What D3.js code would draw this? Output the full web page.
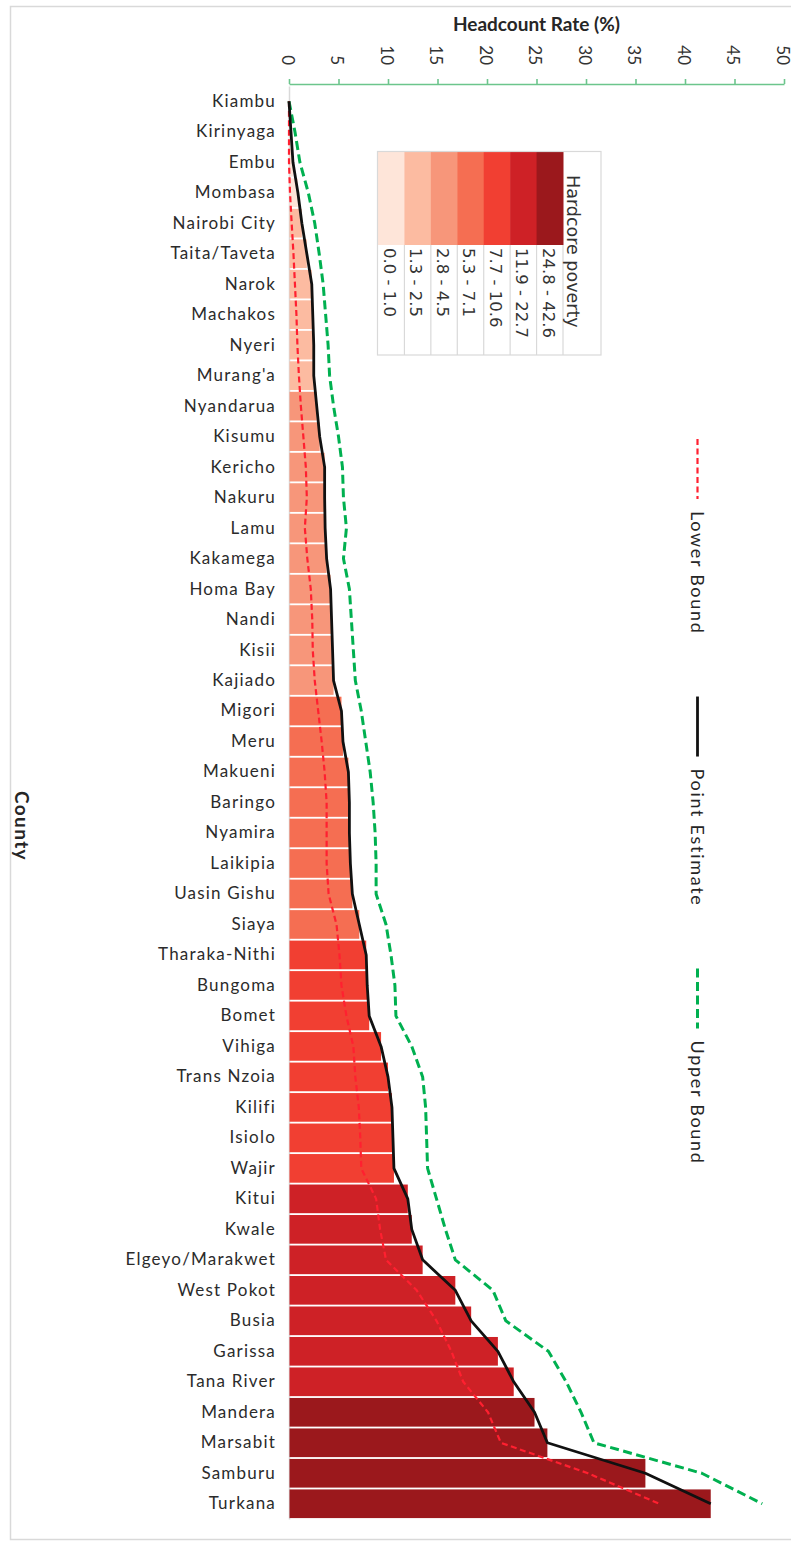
<!DOCTYPE html>
<html>
<head>
<meta charset="utf-8">
<script src="https://cdnjs.cloudflare.com/ajax/libs/d3/7.8.5/d3.min.js"></script>
<style>
  body { margin: 0; background: #fff; }
  svg text { fill: #262626; }
</style>
</head>
<body>
<script>
// counties, top to bottom
const counties = ["Kiambu", "Kirinyaga", "Embu", "Mombasa", "Nairobi City", "Taita/Taveta", "Narok",
    "Machakos", "Nyeri", "Murang'a", "Nyandarua", "Kisumu", "Kericho", "Nakuru", "Lamu", "Kakamega",
    "Homa Bay", "Nandi", "Kisii", "Kajiado", "Migori", "Meru", "Makueni", "Baringo", "Nyamira",
    "Laikipia", "Uasin Gishu", "Siaya", "Tharaka-Nithi", "Bungoma", "Bomet", "Vihiga", "Trans Nzoia",
    "Kilifi", "Isiolo", "Wajir", "Kitui", "Kwale", "Elgeyo/Marakwet", "West Pokot", "Busia", "Garissa",
    "Tana River", "Mandera", "Marsabit", "Samburu", "Turkana"];

// hardcore poverty headcount rate (%)
const pointEstimate = [0.0, 0.2, 0.4, 0.9, 1.3, 1.8, 2.3, 2.4, 2.5, 2.5, 2.8, 3.1, 3.6, 3.6, 3.65, 3.8,
    4.2, 4.3, 4.4, 4.5, 5.3, 5.45, 6.0, 6.1, 6.1, 6.2, 6.4, 7.1, 7.8, 7.9, 8.1, 9.3, 10.0,
    10.4, 10.5, 10.6, 12.0, 12.4, 13.5, 16.8, 18.4, 21.1, 22.7, 24.8, 26.1, 36.0, 42.6];
const lowerBound = [0.0, 0.0, 0.0, 0.1, 0.27, 0.45, 0.6, 0.75, 0.85, 1.0, 1.2, 1.45, 1.7, 1.8, 1.6, 1.85,
    2.2, 2.35, 2.4, 2.6, 2.95, 3.3, 3.6, 3.8, 3.8, 3.8, 4.0, 4.8, 5.1, 5.3, 5.8, 6.5, 6.7,
    7.05, 7.2, 7.3, 8.8, 9.2, 9.8, 12.9, 14.9, 16.4, 17.6, 20.1, 21.4, 30.2, 37.4];
const upperBound = [0.0, 0.6, 1.1, 1.95, 2.6, 3.05, 3.45, 3.7, 3.95, 4.1, 4.5, 5.0, 5.4, 5.5, 5.8, 5.5,
    6.1, 6.3, 6.5, 6.7, 7.3, 7.75, 8.2, 8.5, 8.7, 8.8, 8.8, 9.8, 10.3, 10.7, 10.8, 12.4, 13.5,
    13.8, 13.9, 14.0, 14.9, 15.8, 16.8, 20.6, 21.9, 26.2, 28.0, 29.5, 30.8, 41.7, 47.8];

// colour classes
const classLabels = ["0.0 - 1.0", "1.3 - 2.5", "2.8 - 4.5", "5.3 - 7.1", "7.7 - 10.6", "11.9 - 22.7", "24.8 - 42.6"];
const classBreaks = [1.15, 2.65, 4.9, 7.4, 11.25, 23.75];
const classColors = ["#fee5d9", "#fcbba1", "#f7967a", "#f56e52", "#f13f32", "#ce2126", "#9b181c"];

const xTicks = [0, 5, 10, 15, 20, 25, 30, 35, 40, 45, 50];
const seriesNames = ["Lower Bound", "Point Estimate", "Upper Bound"];

const calibri = "Lato, 'Open Sans', sans-serif";

var width = 791, height = 1548;

var svg = d3.select("body").append("svg")
    .attr("width", width)
    .attr("height", height);

// chart border
svg.append("rect")
    .attr("x", 10.5).attr("y", 6.5)
    .attr("width", 800).attr("height", 1533)
    .attr("fill", "none")
    .attr("stroke", "#d9d9d9")
    .attr("stroke-width", 1.5);

// scales
var x = d3.scaleLinear().domain([0, 50]).range([289, 784]);
var y = d3.scaleBand().domain(counties).range([86, 1519]).paddingInner(0.06).paddingOuter(0.03);
var color = d3.scaleThreshold().domain(classBreaks).range(classColors);
var yMid = c => y(c) + y.bandwidth() / 2;

// left axis (county names)
var yAxis = svg.append("g")
    .attr("transform", "translate(" + x(0) + ",0)")
    .call(d3.axisLeft(y).tickSize(0).tickSizeOuter(0).tickPadding(13));
yAxis.select(".domain").attr("stroke", "#d9d9d9").attr("stroke-width", 1.5);
yAxis.selectAll("text")
    .attr("font-family", calibri)
    .attr("font-size", 17)
    .attr("letter-spacing", 1.2)
    .style("fill", "#2b2b2b");

// bars
svg.append("g").selectAll("rect")
    .data(counties)
    .join("rect")
    .attr("x", x(0) + 0.5)
    .attr("y", d => y(d))
    .attr("width", (d, i) => Math.max(0, x(pointEstimate[i]) - x(0) - 0.5))
    .attr("height", y.bandwidth())
    .attr("fill", (d, i) => color(pointEstimate[i]));

// top axis
var xAxis = svg.append("g")
    .attr("transform", "translate(0,84)")
    .call(d3.axisTop(x).tickValues(xTicks).tickSize(5).tickSizeOuter(0));
xAxis.select(".domain").attr("stroke", "#6cc58c").attr("stroke-width", 1.6);
xAxis.selectAll(".tick line").attr("stroke", "#6cc58c").attr("stroke-width", 1.6);
xAxis.selectAll(".tick text")
    .attr("x", 0).attr("y", 0)
    .attr("dy", "0.45em")
    .attr("text-anchor", "end")
    .attr("transform", "translate(0,-19) rotate(90)")
    .attr("font-family", calibri)
    .attr("font-size", 17)
    .style("fill", "#333");

// axis titles
svg.append("text")
    .attr("x", (x(0) + x(50)) / 2)
    .attr("y", 31)
    .attr("text-anchor", "middle")
    .attr("font-family", calibri)
    .attr("font-weight", "bold")
    .attr("font-size", 19)
    .text("Headcount Rate (%)");

svg.append("text")
    .attr("transform", "translate(22," + 826 + ") rotate(90)")
    .attr("text-anchor", "middle")
    .attr("dy", "0.35em")
    .attr("font-family", calibri)
    .attr("font-weight", "bold")
    .attr("font-size", 19)
    .attr("letter-spacing", 1.4)
    .text("County");

// lines
var styles = {
    "Lower Bound": {stroke: "#ff2030", width: 2.2, dash: "6,3.5", values: lowerBound},
    "Point Estimate": {stroke: "#111", width: 2.8, dash: null, values: pointEstimate},
    "Upper Bound": {stroke: "#00b050", width: 3, dash: "9,4.5", values: upperBound}
};

var line = d3.line()
    .x(d => x(d.v))
    .y(d => yMid(d.c));

["Upper Bound", "Lower Bound", "Point Estimate"].forEach(function (name) {
    var s = styles[name];
    svg.append("path")
        .datum(counties.map((c, i) => ({c: c, v: s.values[i]})))
        .attr("fill", "none")
        .attr("stroke", s.stroke)
        .attr("stroke-width", s.width)
        .attr("stroke-dasharray", s.dash)
        .attr("stroke-linejoin", "round")
        .attr("d", line);
});

// colour legend (rotated table)
var lg = svg.append("g");
var legTop = 152, legSwatchBottom = 245, legBottom = 355, legTitleRight = 601;
var col = d3.scaleBand().domain(classLabels).range([378, 563]);

lg.selectAll("rect.sw")
    .data(classLabels)
    .join("rect")
    .attr("class", "sw")
    .attr("x", d => col(d))
    .attr("y", legTop)
    .attr("width", col.bandwidth() + 0.5)
    .attr("height", legSwatchBottom - legTop)
    .attr("fill", (d, i) => classColors[i]);

lg.selectAll("line.sep")
    .data(classLabels.slice(1).concat(["end"]))
    .join("line")
    .attr("class", "sep")
    .attr("x1", (d, i) => col.range()[0] + col.step() * (i + 1))
    .attr("x2", (d, i) => col.range()[0] + col.step() * (i + 1))
    .attr("y1", legSwatchBottom)
    .attr("y2", legBottom)
    .attr("stroke", "#d9d9d9")
    .attr("stroke-width", 1.2);

lg.append("rect")
    .attr("x", 377.5).attr("y", legTop - 0.5)
    .attr("width", legTitleRight - 377.5)
    .attr("height", legBottom - legTop + 0.5)
    .attr("fill", "none")
    .attr("stroke", "#d9d9d9")
    .attr("stroke-width", 1.2);

lg.selectAll("text.cl")
    .data(classLabels)
    .join("text")
    .attr("class", "cl")
    .attr("transform", d => "translate(" + (col(d) + col.bandwidth() / 2 - 1.5) + "," + (legSwatchBottom + 3) + ") rotate(90)")
    .attr("dy", "0.35em")
    .attr("font-family", "'DejaVu Sans', sans-serif")
    .attr("font-size", 16.5)
    .style("fill", "#333")
    .text(d => d);

lg.append("text")
    .attr("transform", "translate(" + 573 + "," + 175 + ") rotate(90)")
    .attr("dy", "0.35em")
    .attr("font-family", "'DejaVu Sans', sans-serif")
    .attr("font-size", 17.5)
    .style("fill", "#333")
    .text("Hardcore poverty");

// line legend (rotated)
var ll = svg.append("g");
var legX = 697.5, yPos = 439, sampleLen = 60;
seriesNames.forEach(function (name) {
    var s = styles[name];
    ll.append("line")
        .attr("x1", legX).attr("x2", legX)
        .attr("y1", yPos).attr("y2", yPos + sampleLen)
        .attr("stroke", s.stroke)
        .attr("stroke-width", s.width)
        .attr("stroke-dasharray", s.dash);
    var t = ll.append("text")
        .attr("transform", "translate(" + legX + "," + (yPos + sampleLen + 12) + ") rotate(90)")
        .attr("dy", "0.35em")
        .attr("font-family", calibri)
        .attr("font-size", 18)
        .attr("letter-spacing", 1.7)
        .style("fill", "#262626")
        .text(name);
    yPos += sampleLen + 12 + t.node().getComputedTextLength() + 62;
});
</script>
</body>
</html>
